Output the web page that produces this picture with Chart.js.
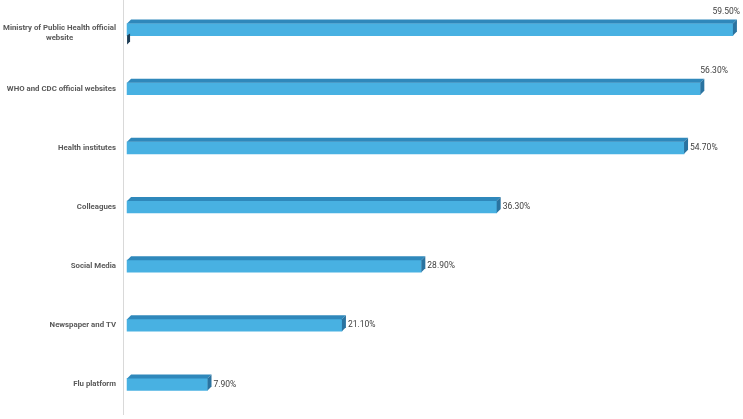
<!DOCTYPE html>
<html>
<head>
<meta charset="utf-8">
<script src="https://cdn.jsdelivr.net/npm/chart.js@4.4.1/dist/chart.umd.min.js"></script>
<style>
  html, body { margin: 0; padding: 0; background: #fff; }
  #wrap { width: 743px; height: 419px; }
</style>
</head>
<body>
<div id="wrap"><canvas id="chart"></canvas></div>
<script>
const categories = [
  ['Ministry of Public Health official', 'website'],
  'WHO and CDC official websites',
  'Health institutes',
  'Colleagues',
  'Social Media',
  'Newspaper and TV',
  'Flu platform'
];
const values = [59.5, 56.3, 54.7, 36.3, 28.9, 21.1, 7.9];
const valueLabels = ['59.50%', '56.30%', '54.70%', '36.30%', '28.90%', '21.10%', '7.90%'];

const frontColor = '#48b1e2';
const topColor = '#2f88bb';
const sideColor = '#2a73a0';
const labelFamily = 'Roboto, "Liberation Sans", Arial, sans-serif';

// category labels: right aligned, wrapped lines centred on each other
const catLabels = {
  id: 'catLabels',
  afterDraw(chart) {
    const ctx = chart.ctx;
    const yScale = chart.scales.y;
    const right = chart.chartArea.left - 7;
    ctx.save();
    // size the font so the longest line fills the space left of the axis
    ctx.font = 'bold 10px ' + labelFamily;
    let longest = 0;
    chart.data.labels.forEach(lab => {
      (Array.isArray(lab) ? lab : [lab]).forEach(l => {
        longest = Math.max(longest, ctx.measureText(l).width);
      });
    });
    const size = Math.min(9.5, 10 * 113 / longest);
    ctx.font = 'bold ' + size.toFixed(2) + 'px ' + labelFamily;
    ctx.fillStyle = '#595959';
    ctx.textBaseline = 'middle';
    ctx.textAlign = 'center';
    chart.data.labels.forEach((lab, i) => {
      const lines = Array.isArray(lab) ? lab : [lab];
      const maxW = Math.max(...lines.map(l => ctx.measureText(l).width));
      const cx = right - maxW / 2;
      const cy = yScale.getPixelForValue(i) + (lines.length > 1 ? 3 : 0);
      const lh = 10;
      lines.forEach((l, k) => {
        ctx.fillText(l, cx, cy + (k - (lines.length - 1) / 2) * lh);
      });
    });
    ctx.restore();
  }
};

// fake 3d: top and right faces on each bar, plus value labels
const bar3d = {
  id: 'bar3d',
  afterDatasetsDraw(chart) {
    const ctx = chart.ctx;
    const meta = chart.getDatasetMeta(0);
    const dx = 4, dy = 4;
    ctx.save();
    meta.data.forEach((bar, i) => {
      const x0 = bar.base, x1 = bar.x;
      const top = bar.y - bar.height / 2;
      const bottom = bar.y + bar.height / 2;

      ctx.fillStyle = topColor;
      ctx.beginPath();
      ctx.moveTo(x0, top);
      ctx.lineTo(x0 + dx, top - dy);
      ctx.lineTo(x1 + dx, top - dy);
      ctx.lineTo(x1, top);
      ctx.closePath();
      ctx.fill();

      ctx.fillStyle = sideColor;
      ctx.beginPath();
      ctx.moveTo(x1, top);
      ctx.lineTo(x1 + dx, top - dy);
      ctx.lineTo(x1 + dx, bottom - dy);
      ctx.lineTo(x1, bottom);
      ctx.closePath();
      ctx.fill();

      // little dark sliver under the first bar
      if (i === 0) {
        ctx.fillStyle = '#1d3d55';
        ctx.beginPath();
        ctx.moveTo(x0, bottom);
        ctx.lineTo(x0 + 3, bottom - 2);
        ctx.lineTo(x0 + 3, bottom + 6);
        ctx.lineTo(x0, bottom + 9);
        ctx.closePath();
        ctx.fill();
      }

      ctx.font = '8.5px ' + labelFamily;
      ctx.fillStyle = '#404040';
      ctx.textBaseline = 'middle';
      const txt = valueLabels[i];
      const w = ctx.measureText(txt).width;
      let lx = x1 + dx + 2;
      let ly = bar.y;
      if (lx + w > chart.chartArea.right - 8) {
        lx = Math.min(x1, chart.width - 3 - w);
        ly = top - dy - 8;
      }
      ctx.textAlign = 'left';
      ctx.fillText(txt, lx, ly);
    });
    ctx.restore();
  }
};

new Chart(document.getElementById('chart'), {
  type: 'bar',
  data: {
    labels: categories,
    datasets: [{
      data: values,
      backgroundColor: frontColor,
      borderWidth: 0,
      barThickness: 12
    }]
  },
  options: {
    indexAxis: 'y',
    responsive: true,
    maintainAspectRatio: false,
    animation: false,
    layout: { padding: { top: 0, right: 5, bottom: 5, left: 0 } },
    scales: {
      x: {
        display: false,
        min: -0.4,
        max: 60
      },
      y: {
        grid: { display: false, drawTicks: false },
        border: { display: true, color: '#d9d9d9', width: 1 },
        ticks: { display: false },
        afterFit(scale) {
          scale.width = 123;
          scale.paddingTop = 0;
          scale.paddingBottom = 0;
        }
      }
    },
    plugins: {
      legend: { display: false },
      tooltip: { enabled: false }
    }
  },
  plugins: [bar3d, catLabels]
});
</script>
</body>
</html>
